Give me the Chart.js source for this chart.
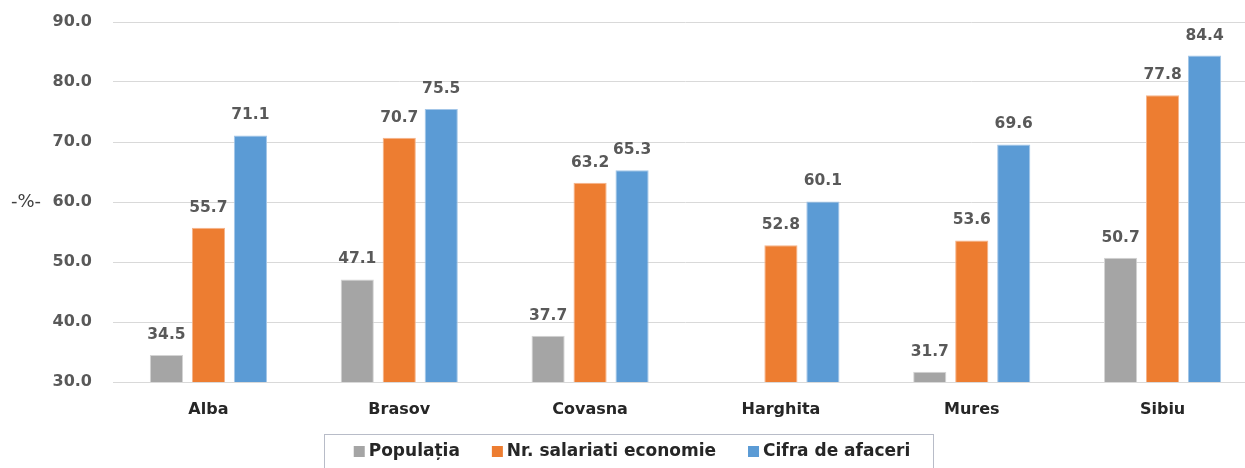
<!DOCTYPE html>
<html>
<head>
<meta charset="utf-8">
<script src="https://cdn.jsdelivr.net/npm/chart.js@4/dist/chart.umd.min.js"></script>
<style>
  html, body { margin: 0; padding: 0; background: #fff; overflow: hidden; }
  #wrap { position: absolute; left: 0; top: 0; width: 1258px; height: 468px; }
</style>
</head>
<body>
<div id="wrap"><canvas id="grafico"></canvas></div>
<script>
const judete = ['Alba', 'Brasov', 'Covasna', 'Harghita', 'Mures', 'Sibiu']
const populatia = [34.5, 47.1, 37.7, null, 31.7, 50.7]
const salariati = [55.7, 70.7, 63.2, 52.8, 53.6, 77.8]
const cifraAfaceri = [71.1, 75.5, 65.3, 60.1, 69.6, 84.4]
const ticksY = [30, 40, 50, 60, 70, 80, 90]

const fontul = 'DejaVu Sans'

// etichete cu valori deasupra barelor
const eticheteValori = {
    id: 'eticheteValori',
    afterDatasetsDraw(chart) {
        const ctx = chart.ctx
        ctx.save()
        ctx.font = 'bold 15.5px ' + fontul
        ctx.fillStyle = '#595959'
        ctx.textAlign = 'center'
        ctx.textBaseline = 'alphabetic'
        chart.data.datasets.forEach((ds, i) => {
            chart.getDatasetMeta(i).data.forEach((bar, j) => {
                if (ds.data[j] == null) return
                ctx.fillText(ds.data[j].toFixed(1), bar.x, bar.y - 16)
            })
        })
        ctx.restore()
    }
}

// titlul axei y (orizontal) si legenda cu chenar
const extra = {
    id: 'extra',
    afterDraw(chart) {
        const ctx = chart.ctx
        ctx.save()
        ctx.font = '18px ' + fontul
        ctx.fillStyle = '#404040'
        ctx.textAlign = 'center'
        ctx.textBaseline = 'middle'
        ctx.fillText('-%-', 26, chart.scales.y.getPixelForValue(60))

        ctx.font = 'bold 17px ' + fontul
        const items = chart.data.datasets.map(ds => ({ text: ds.label, color: ds.backgroundColor, w: ctx.measureText(ds.label).width }))
        const sq = 11, gapTxt = 4, gapItem = 32
        let total = items.reduce((s, it) => s + sq + gapTxt + it.w, 0) + gapItem * (items.length - 1)
        let x = 632 - total / 2
        ctx.strokeStyle = '#b8bcc8'
        ctx.lineWidth = 1
        ctx.strokeRect(Math.round(x - 30) + 0.5, 434.5, Math.round(total + 52), 40)
        ctx.textAlign = 'left'
        items.forEach(it => {
            ctx.fillStyle = it.color
            ctx.fillRect(x, 446, sq, sq)
            ctx.fillStyle = '#262626'
            ctx.fillText(it.text, x + sq + gapTxt, 452)
            x += sq + gapTxt + it.w + gapItem
        })
        ctx.restore()
    }
}

const ctx = document.getElementById('grafico')

new Chart(ctx, {
    type: 'bar',
    data: {
        labels: judete,
        datasets: [
            { label: 'Populația', data: populatia, backgroundColor: '#A5A5A5', borderColor: '#d4d4d4', borderWidth: 1 },
            { label: 'Nr. salariati economie', data: salariati, backgroundColor: '#ED7D31', borderColor: '#f5b48a', borderWidth: 1 },
            { label: 'Cifra de afaceri', data: cifraAfaceri, backgroundColor: '#5B9BD5', borderColor: '#a3c6e8', borderWidth: 1 }
        ]
    },
    options: {
        responsive: true,
        maintainAspectRatio: false,
        animation: false,
        layout: { padding: { top: 22, bottom: 36, left: 0, right: 0 } },
        plugins: {
            legend: { display: false },
            tooltip: { enabled: false }
        },
        datasets: {
            bar: { categoryPercentage: 0.66, barPercentage: 0.79 }
        },
        scales: {
            x: {
                grid: { display: false },
                border: { color: '#d9d9d9' },
                ticks: { color: '#262626', font: { family: fontul, size: 16, weight: 'bold' }, padding: 10 },
                afterFit(scale) { scale.height = 50; scale.paddingLeft = 0; scale.paddingRight = 0 }
            },
            y: {
                min: 30,
                max: 90,
                afterBuildTicks(scale) { scale.ticks = ticksY.map(v => ({ value: v })) },
                grid: { color: '#d9d9d9', drawTicks: false },
                border: { display: false },
                ticks: {
                    color: '#595959',
                    font: { family: fontul, size: 16, weight: 'bold' },
                    padding: 21,
                    callback: v => v.toFixed(1)
                },
                afterFit(scale) { scale.width = 113; scale.paddingTop = 0; scale.paddingBottom = 0 }
            }
        }
    },
    plugins: [eticheteValori, extra]
})
</script>
</body>
</html>
